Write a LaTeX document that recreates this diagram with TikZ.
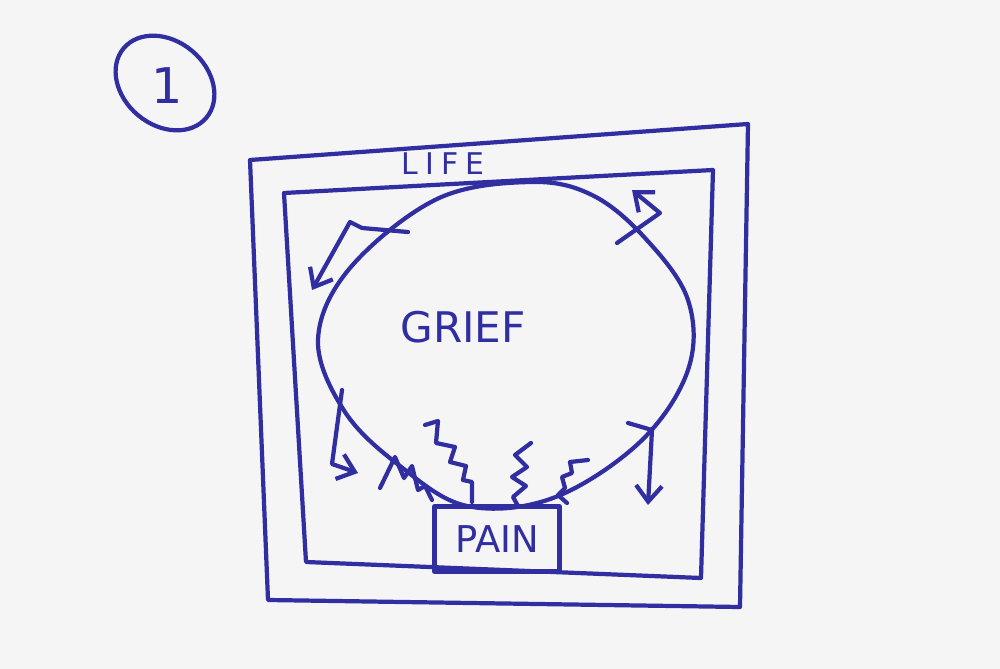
\documentclass[tikz,border=0pt]{standalone}
\usepackage{fontspec}
\setsansfont{DejaVu Sans}
\usetikzlibrary{arrows.meta,positioning}
\definecolor{InkBlue}{RGB}{48,46,160}
\definecolor{PaperGray}{RGB}{245,245,246}
\tikzset{
  pen/.style={draw=InkBlue,line width=1.2pt,line cap=round,line join=round},
  penarrow/.style={pen,-{Straight Barb[length=1.6mm,width=2.6mm,line width=1.2pt]}},
  handtext/.style={text=InkBlue,font=\sffamily\fontsize{12}{12}\selectfont,inner sep=1pt}
}
\begin{document}
\begin{tikzpicture}[x=0.1mm,y=-0.1mm]
  % paper
  \fill[PaperGray] (0,0) rectangle (1000,669);
  \useasboundingbox (0,0) rectangle (1000,669);

  % step number
  \draw[pen] (165,83) ellipse[x radius=54,y radius=42,rotate=-40];
  \node[handtext,font=\sffamily\fontsize{14}{14}\selectfont] (num) at (167,86) {1};

  % life frame (outer and inner)
  \coordinate (o1) at (250,160);
  \coordinate (o2) at (748,124);
  \coordinate (o3) at (740,607);
  \coordinate (o4) at (268,600);
  \draw[pen] (o1) -- (o2) -- (o3) -- (o4) -- cycle;
  \coordinate (i1) at (284,193);
  \coordinate (i2) at (713,170);
  \coordinate (i3) at (701,578);
  \coordinate (i4) at (306,562);
  \draw[pen] (i1) -- (i2) -- (i3) -- (i4) -- cycle;
  \node[handtext,font=\sffamily\fontsize{8.5}{8.5}\selectfont] (life) at (443,164)
    {L\hspace{2pt}I\hspace{2pt}F\hspace{2pt}E};

  % grief
  \draw[pen] plot[smooth cycle,tension=0.6] coordinates {
    (530,182) (437,199) (350,268) (318,340) (345,412) (400,466) (467,506)
    (553,498) (640,442) (688,370) (688,300) (645,238) (592,195)};
  \node[handtext] (grief) at (463,327) {GRIEF};

  % pain
  \node[pen,minimum width=12.5mm,minimum height=6.5mm,inner sep=0pt] (pain) at (497,539) {};
  \node[handtext,font=\sffamily\fontsize{10.5}{10.5}\selectfont] at (pain) {PAIN};

  % arrows leaving grief
  \coordinate (a1) at (408,232);
  \coordinate (a2) at (312,290);
  \draw[penarrow] (a1) -- (362,228) -- (350,222) -- (a2);
  \coordinate (b1) at (617,243);
  \coordinate (b2) at (632,190);
  \draw[penarrow] (b1) -- (660,213) -- (b2);
  \coordinate (c1) at (628,423);
  \coordinate (c2) at (648,505);
  \draw[penarrow] (c1) -- (652,430) -- (c2);
  \coordinate (d1) at (342,390);
  \coordinate (d2) at (358,473);
  \draw[penarrow] (d1) -- (332,464) -- (d2);

  % pain pushing into grief
  \draw[pen] (380,488) -- (395,457) -- (404,478) -- (412,466) -- (418,490)
    -- (425,486) -- (432,500);
  \draw[pen] (425,425) -- (438,421) -- (436,443) -- (455,447) -- (450,462)
    -- (466,466) -- (463,480) -- (472,482) -- (472,502);
  \draw[pen] (518,506) -- (513,497) -- (526,486) -- (512,477) -- (527,467)
    -- (515,455) -- (531,443);
  \draw[pen] (567,503) -- (558,495) -- (565,488) -- (562,477) -- (572,473)
    -- (570,462) -- (588,460);
\end{tikzpicture}
\end{document}
